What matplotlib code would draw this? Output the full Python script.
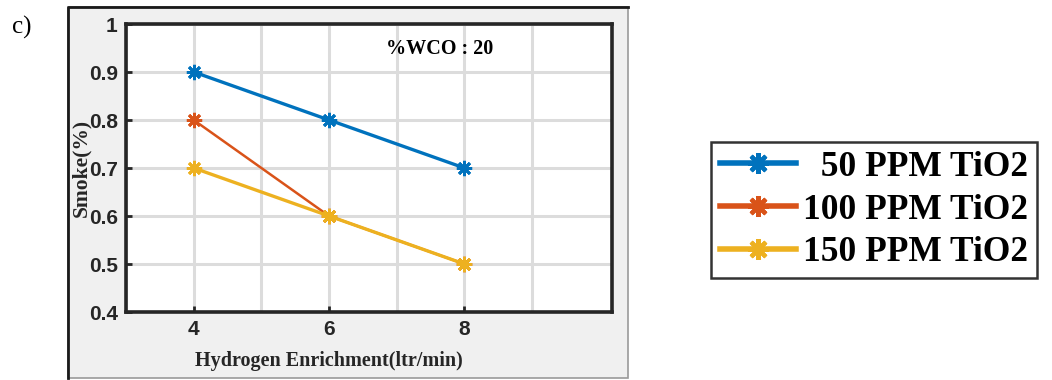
import numpy as np
import matplotlib.pyplot as plt
from matplotlib.patches import Rectangle
from matplotlib.lines import Line2D

# data
h2_flow = [4, 6, 8]
smoke_50 = [0.9, 0.8, 0.7]
smoke_100 = [0.8, 0.6, 0.5]
smoke_150 = [0.7, 0.6, 0.5]
series_labels = ["  50 PPM TiO2", "100 PPM TiO2", "150 PPM TiO2"]
series_colors = ["#0072BD", "#D95319", "#EDB120"]

W, H = 1052, 380
fig = plt.figure(figsize=(W / 100, H / 100), dpi=100)
fig.patch.set_facecolor("white")

# gray panel behind the subplot (like a MATLAB figure window)
x0, x1, y0, y1 = 68 / W, 628 / W, 1 - 378 / H, 1 - 7 / H
fig.patches.append(Rectangle((x0, y0), x1 - x0, y1 - y0, transform=fig.transFigure,
                             facecolor="#F0F0F0", edgecolor="#9A9A9A", linewidth=1.2, zorder=-2))
fig.lines.append(Line2D([x0, x0, x1], [y0, y1, y1], transform=fig.transFigure,
                        color="#1A1A1A", linewidth=2.0, zorder=-1))

ax = fig.add_axes([126 / W, 1 - 312 / H, (612 - 126) / W, (312 - 24) / H])
ax.set_zorder(2)
ax.set_facecolor("white")

# MATLAB style asterisk marker
star = (8, 2, 0)
data = [smoke_50, smoke_100, smoke_150]
widths = [2.4, 1.8, 2.4]
for vals, lab, col, lw in zip(data, series_labels, series_colors, widths):
    ax.plot(h2_flow, vals, color=col, linewidth=lw, marker=star, markersize=11,
            markeredgewidth=2.0, label=lab)

ax.set_xlim(3, 10.18)
ax.set_ylim(0.4, 1.0)
ax.set_xticks([4, 6, 8])
ax.set_xticks([3, 5, 7, 9], minor=True)
ax.set_yticks(np.arange(0.4, 1.01, 0.1))
ax.set_yticklabels(["0.4", "0.5", "0.6", "0.7", "0.8", "0.9", "1"])
ax.grid(True, which="both", color="#DCDCDC", linewidth=2.2)
ax.set_axisbelow(True)
ax.tick_params(which="major", direction="in", length=4, width=2, color="#262626", pad=6)
ax.tick_params(which="minor", length=0)
for lab in ax.get_xticklabels() + ax.get_yticklabels():
    lab.set_fontfamily("Liberation Sans")
    lab.set_fontweight("bold")
    lab.set_fontsize(15)
    lab.set_color("#262626")
for sp in ax.spines.values():
    sp.set_linewidth(2.6)
    sp.set_color("#262626")

serif = "Liberation Serif"
ax.set_xlabel("Hydrogen Enrichment(ltr/min)", fontfamily=serif, fontweight="bold",
              fontsize=14.5, color="#262626")
ax.xaxis.set_label_coords(0.418, -0.135)
ax.set_ylabel("Smoke(%)", fontfamily=serif, fontweight="bold", fontsize=15.5,
              color="#262626", labelpad=-2)
ax.text(0.646, 0.913, "%WCO : 20", transform=ax.transAxes, fontfamily=serif,
        fontweight="bold", fontsize=14.5, ha="center", va="center")

fig.text(12 / W, 1 - 27 / H, "c)", fontfamily=serif, fontsize=18, va="center", ha="left")

leg = fig.legend(*ax.get_legend_handles_labels(), loc="center left",
                 bbox_to_anchor=(711 / W, 1 - 210 / H), frameon=True, fancybox=False,
                 prop={"family": serif, "weight": "bold", "size": 25.5},
                 handlelength=2.15, handletextpad=0.2, labelspacing=0.28,
                 borderpad=0.25, borderaxespad=0)
leg.get_frame().set_edgecolor("black")
leg.get_frame().set_linewidth(1.8)
for h in leg.legend_handles:
    h.set_linewidth(4)
    h.set_markersize(15)
    h.set_markeredgewidth(3)

fig.savefig("out.png", dpi=100)
